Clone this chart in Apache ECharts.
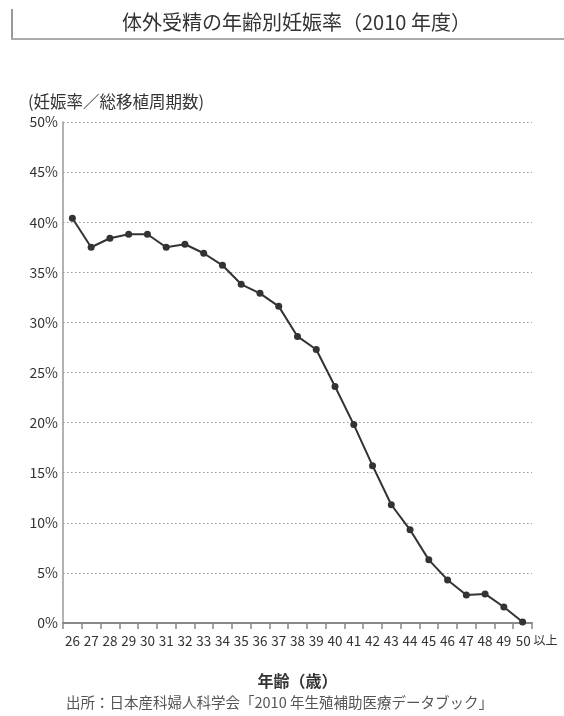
<!DOCTYPE html>
<html>
<head>
<meta charset="utf-8">
<script src="https://cdn.jsdelivr.net/npm/echarts@6/dist/echarts.min.js"></script>
<style>
html,body{margin:0;padding:0;background:#fff;}
#box{width:564px;height:716px;}
</style>
</head>
<body>
<div id="box"></div>
<script>
// 年齢 (x axis categories)
const ages = ["26","27","28","29","30","31","32","33","34","35","36","37","38",
    "39","40","41","42","43","44","45","46","47","48","49","50以上"];
// 妊娠率 (%)
const rates = [40.4,37.5,38.4,38.8,38.8,37.5,37.8,36.9,35.7,33.8,32.9,31.6,28.6,
    27.3,23.6,19.8,15.7,11.8,9.3,6.3,4.3,2.8,2.9,1.6,0.1];
const yTicks = [0,5,10,15,20,25,30,35,40,45,50];

const font = "'Noto Sans CJK JP', 'Noto Sans', sans-serif";
let mycharts = echarts.init(document.getElementById("box"));
mycharts.setOption({
    backgroundColor:"#fff",
    animation:false,
    textStyle:{fontFamily:font},
    title:[
        {
            text:"体外受精の年齢別妊娠率（2010 年度）",
            left:117,
            top:7,
            textStyle:{color:"#333",fontSize:20,fontWeight:"normal",fontFamily:font}
        },
        {
            text:"(妊娠率／総移植周期数)",
            left:23,
            top:88,
            textStyle:{color:"#333",fontSize:16.5,fontWeight:"normal",fontFamily:font}
        },
        {
            text:"出所：日本産科婦人科学会「2010 年生殖補助医療データブック」",
            left:61,
            top:690,
            textStyle:{color:"#555",fontSize:14.5,fontWeight:"normal",fontFamily:font}
        }
    ],
    graphic:[
        {type:"line",shape:{x1:12,y1:9,x2:12,y2:39},style:{stroke:"#999",lineWidth:2}},
        {type:"line",shape:{x1:11,y1:39,x2:564,y2:39},style:{stroke:"#aaa",lineWidth:2}}
    ],
    grid:{left:63,right:32,top:122,bottom:93,containLabel:false},
    xAxis:{
        type:"category",
        data:ages,
        boundaryGap:true,
        name:"年齢（歳）",
        nameLocation:"middle",
        nameGap:50,
        nameTextStyle:{color:"#333",fontSize:16,fontWeight:"bold",fontFamily:font},
        axisLine:{lineStyle:{color:"#888",width:2}},
        axisTick:{show:true,length:6,lineStyle:{color:"#888",width:1.5}},
        axisLabel:{
            color:"#333",
            fontSize:13.5,
            margin:11,
            interval:0,
            formatter:function(v){
                if(v.indexOf("以上")>=0){
                    return "{p|}{n|50}{s| 以上}";
                }
                return v;
            },
            rich:{
                p:{width:28},
                n:{fontSize:13.5,color:"#333"},
                s:{fontSize:12,color:"#333"}
            }
        },
        splitLine:{show:false}
    },
    yAxis:{
        type:"value",
        min:yTicks[0],
        max:yTicks[yTicks.length-1],
        interval:5,
        axisLine:{show:true,lineStyle:{color:"#999",width:1.5}},
        axisTick:{show:false},
        axisLabel:{color:"#333",fontSize:14,margin:5,formatter:"{value}%"},
        splitLine:{show:true,lineStyle:{color:"#999",type:[1.5,2.5],width:1.2}}
    },
    series:[
        {
            type:"line",
            data:rates,
            symbol:"circle",
            symbolSize:7,
            lineStyle:{color:"#333",width:2},
            itemStyle:{color:"#333"}
        }
    ]
});
</script>
</body>
</html>
